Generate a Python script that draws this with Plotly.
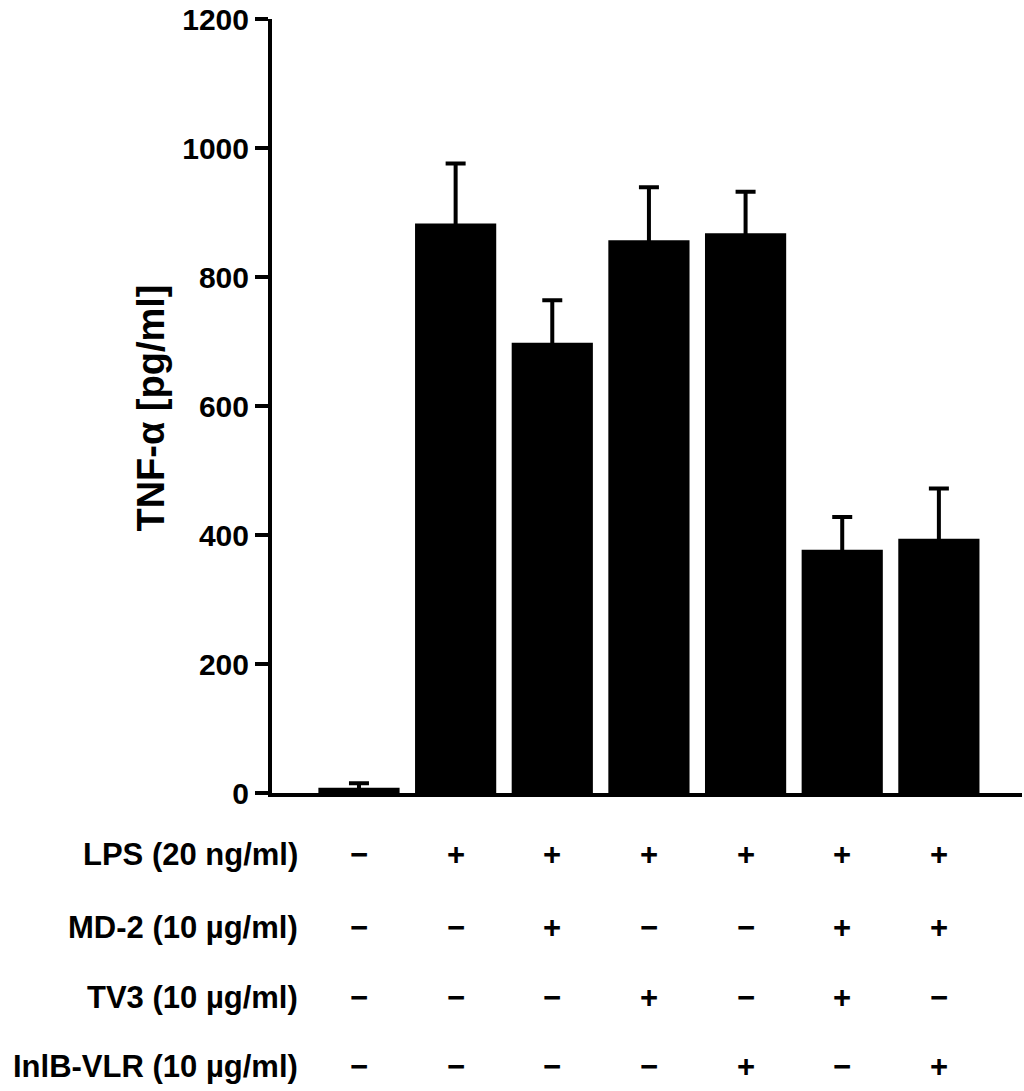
import plotly.graph_objects as go

groups = ["G1", "G2", "G3", "G4", "G5", "G6", "G7"]
tnf_values = [8, 883, 698, 857, 868, 377, 394]
tnf_errors = [7, 93, 66, 82, 64, 51, 78]

row_labels = ["LPS (20 ng/ml)", "MD-2 (10 µg/ml)", "TV3 (10 µg/ml)", "InlB-VLR (10 µg/ml)"]
row_signs = [
    ["−", "+", "+", "+", "+", "+", "+"],
    ["−", "−", "+", "−", "−", "+", "+"],
    ["−", "−", "−", "+", "−", "+", "−"],
    ["−", "−", "−", "−", "+", "−", "+"],
]
y_ticks = [0, 200, 400, 600, 800, 1000, 1200]

FONT = "Liberation Sans, Arial, Helvetica, sans-serif"

fig = go.Figure()
fig.add_trace(go.Bar(
    x=list(range(len(groups))),
    y=tnf_values,
    width=0.84,
    marker=dict(color="#000000", line=dict(width=0)),
    error_y=dict(type="data", array=tnf_errors, symmetric=True,
                 color="#000000", thickness=4, width=10),
    showlegend=False,
))

row_y = [-0.080, -0.174, -0.264, -0.353]
anns = []
for label, signs, yy in zip(row_labels, row_signs, row_y):
    anns.append(dict(text=label, xref="paper", yref="paper", x=0.0373, y=yy,
                     xanchor="right", yanchor="middle", showarrow=False,
                     font=dict(family=FONT, size=31, color="black", weight="bold")))
    for i, s in enumerate(signs):
        anns.append(dict(text=s, xref="x", yref="paper", x=i, y=yy,
                         xanchor="center", yanchor="middle", showarrow=False,
                         font=dict(family=FONT, size=31, color="black", weight="bold")))

anns.append(dict(text="TNF-α [pg/ml]", xref="paper", yref="paper", x=-0.161, y=0.497,
                 xanchor="center", yanchor="middle", textangle=-90, showarrow=False,
                 font=dict(family=FONT, size=38, color="black", weight="bold")))

fig.update_layout(
    width=1024, height=1091,
    margin=dict(l=272, r=2, t=17, b=298),
    plot_bgcolor="white", paper_bgcolor="white",
    annotations=anns,
    xaxis=dict(range=[-0.9, 6.86], showline=True, linewidth=4, linecolor="black",
               showticklabels=False, ticks="", showgrid=False, zeroline=False),
    yaxis=dict(range=[0, 1200], tickvals=y_ticks, ticktext=[str(v) for v in y_ticks],
               showline=True, linewidth=4, linecolor="black", ticks="outside",
               ticklen=13, tickwidth=4, tickcolor="black", showgrid=False, zeroline=False,
               tickfont=dict(family=FONT, size=30, color="black", weight="bold")),
)

fig.write_html("out.html")
